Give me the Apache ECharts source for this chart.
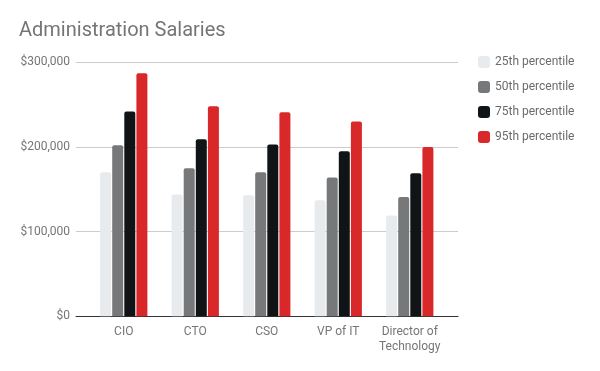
<!DOCTYPE html>
<html><head><meta charset="utf-8">
<script src="https://cdn.jsdelivr.net/npm/echarts@6/dist/echarts.min.js"></script>
<style>html,body{margin:0;padding:0;background:#fff}#c{width:600px;height:371px}</style>
</head><body><div id="c"></div>
<script>
const categories = ['CIO', 'CTO', 'CSO', 'VP of IT', 'Director of\nTechnology'];
const seriesNames = ['25th percentile', '50th percentile', '75th percentile', '95th percentile'];
const p25 = [170000, 144000, 143000, 137000, 119000];
const p50 = [202000, 175000, 170000, 164000, 141000];
const p75 = [242000, 209000, 203000, 195000, 169000];
const p95 = [287000, 248000, 241000, 230000, 200000];
const yTicks = [0, 100000, 200000, 300000];
const colors = ['#e8ebee', '#76787a', '#111417', '#d9282a'];
const values = [p25, p50, p75, p95];

const chart = echarts.init(document.getElementById('c'), null, {renderer: 'canvas'});
chart.setOption({
  animation: false,
  textStyle: {fontFamily: 'Roboto'},
  title: {
    text: 'Administration Salaries', left: 14, top: 16,
    textStyle: {fontFamily: 'Roboto', fontSize: 20, fontWeight: 'normal', color: '#757575'}
  },
  legend: {
    orient: 'vertical', left: 473, top: 51, itemGap: 13,
    itemWidth: 12, itemHeight: 12, icon: 'roundRect',
    textStyle: {fontFamily: 'Roboto', fontSize: 12, color: '#6b6b6b'},
    data: seriesNames
  },
  grid: [
    {left: 76, right: 142, top: 62.3, bottom: 54.7, containLabel: false},
    {left: 88, right: 154.5, top: 62.3, bottom: 54.7, containLabel: false}
  ],
  xAxis: [
    {
      type: 'value', gridIndex: 0, min: 0, max: 1,
      axisLine: {show: true, onZero: false, lineStyle: {color: '#333333', width: 1}},
      axisTick: {show: false}, axisLabel: {show: false}, splitLine: {show: false}
    },
    {
      type: 'category', gridIndex: 1, data: categories,
      axisLine: {show: false},
      axisTick: {show: false},
      axisLabel: {interval: 0, fontFamily: 'Roboto', fontSize: 12, color: '#757575', margin: 8, lineHeight: 15}
    }
  ],
  yAxis: [
    {
      type: 'value', gridIndex: 0, min: 0, max: 300000, interval: 100000,
      axisLine: {show: false}, axisTick: {show: false},
      splitLine: {lineStyle: {color: '#cccccc'}},
      axisLabel: {
        fontFamily: 'Roboto', fontSize: 12, color: '#757575', margin: 6,
        formatter: v => yTicks.includes(v) ? '$' + v.toLocaleString('en-US') : ''
      }
    },
    {
      type: 'value', gridIndex: 1, min: 0, max: 300000, interval: 100000,
      show: false
    }
  ],
  series: seriesNames.map((n, i) => ({
    name: n, type: 'bar', data: values[i], xAxisIndex: 1, yAxisIndex: 1,
    barWidth: 11, barGap: '10%',
    itemStyle: {color: colors[i], borderRadius: [2, 2, 0, 0]}
  }))
});
</script></body></html>
